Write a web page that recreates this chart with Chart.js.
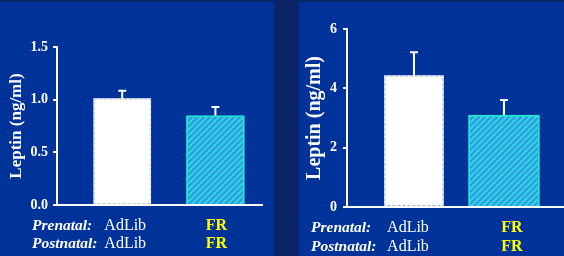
<!DOCTYPE html>
<html>
<head>
<meta charset="utf-8">
<script src="https://cdn.jsdelivr.net/npm/chart.js@4.4.1/dist/chart.umd.min.js"></script>
<style>
  html, body { margin: 0; padding: 0; }
  body { width: 564px; height: 256px; background: #0a2468; position: relative; overflow: hidden; }
  .panel { position: absolute; top: 2px; height: 254px; background: #003399; }
  canvas { position: absolute; top: 0; }
</style>
</head>
<body>
<div class="panel" style="left:0;width:274px"></div>
<div class="panel" style="left:299px;width:265px"></div>
<canvas id="chartA" style="left:0" width="274" height="256"></canvas>
<canvas id="chartB" style="left:299px" width="265" height="256"></canvas>
<script>
// groups (prenatal / postnatal feeding)
const prenatal = ['AdLib', 'FR'];
const postnatal = ['AdLib', 'FR'];
const rowTitles = ['Prenatal:', 'Postnatal:'];
const xPos = [1, 2];

// left panel
const leptinA = [1.01, 0.85];
const semA = [0.075, 0.08];
const ticksA = [0, 0.5, 1.0, 1.5];

// right panel
const leptinB = [4.43, 3.1];
const semB = [0.79, 0.51];
const ticksB = [0, 2, 4, 6];

const serif = "'Liberation Serif', 'Times New Roman', serif";

makeHatch = () => {
    const c = document.createElement('canvas');
    c.width = 6; c.height = 6;
    const g = c.getContext('2d');
    g.fillStyle = '#3f8cf2';
    g.fillRect(0, 0, 6, 6);
    g.strokeStyle = '#20e0d2';
    g.lineWidth = 2.2;
    for (let k = -1; k <= 1; k++) {
        g.beginPath();
        g.moveTo(k * 6 - 1, 7);
        g.lineTo(k * 6 + 7, -1);
        g.stroke();
    }
    return g.createPattern(c, 'repeat');
}

// upper error bars, a dashed edge on the white bar, and the group labels under the axis
const extras = {
    id: 'extras',
    afterDatasetsDraw(chart, args, o) {
        const ctx = chart.ctx;
        const y = chart.scales.y;
        ctx.save();
        chart.data.datasets.forEach((ds, i) => {
            const el = chart.getDatasetMeta(i).data[0];
            if (i === 0) {
                ctx.strokeStyle = o.dashColor;
                ctx.lineWidth = 1;
                ctx.setLineDash([3, 2]);
                ctx.strokeRect(el.x - el.width / 2 + 0.5, el.y + 0.5, el.width - 1, el.base - el.y - 1);
                ctx.setLineDash([]);
            }
            const top = y.getPixelForValue(ds.data[0].y + o.sem[i]);
            ctx.strokeStyle = '#ffffff';
            ctx.lineWidth = 2;
            ctx.beginPath();
            ctx.moveTo(el.x, el.y);
            ctx.lineTo(el.x, top);
            ctx.moveTo(el.x - 4, top);
            ctx.lineTo(el.x + 4, top);
            ctx.stroke();
        });
        ctx.restore();
    },
    afterDraw(chart, args, o) {
        const ctx = chart.ctx;
        const xs = chart.scales.x;
        ctx.save();
        ctx.textBaseline = 'middle';
        rowTitles.forEach((t, j) => {
            const ty = xs.top + o.rowY + j * o.lineH;
            ctx.fillStyle = '#ffffff';
            ctx.textAlign = 'left';
            ctx.font = `italic bold 15.5px ${serif}`;
            ctx.fillText(t, o.rowX, ty);
            const names = j === 0 ? prenatal : postnatal;
            ctx.textAlign = 'center';
            chart.data.datasets.forEach((ds, i) => {
                const el = chart.getDatasetMeta(i).data[0];
                ctx.fillStyle = i === 1 ? '#ffff00' : '#ffffff';
                ctx.font = `${i === 1 ? 'bold ' : ''}16px ${serif}`;
                ctx.fillText(names[i], el.x + o.nudge[i], ty);
            });
        });
        ctx.restore();
    }
};

makeChart = (id, vals, sem, yTicks, s) => {
    new Chart(document.getElementById(id), {
        type: 'bar',
        data: {
            datasets: [
                {
                    data: [{ x: xPos[0], y: vals[0] }],
                    grouped: false,
                    backgroundColor: '#ffffff',
                    borderWidth: 0,
                    barThickness: s.barW[0]
                },
                {
                    data: [{ x: xPos[1], y: vals[1] }],
                    grouped: false,
                    backgroundColor: makeHatch(),
                    borderColor: '#20e6d2',
                    borderWidth: 2,
                    barThickness: s.barW[1]
                }
            ]
        },
        options: {
            responsive: false,
            animation: false,
            events: [],
            layout: { padding: { left: s.padLeft, top: s.top, right: s.padRight, bottom: 0 } },
            plugins: {
                legend: { display: false },
                tooltip: { enabled: false },
                extras: { sem: sem, rowX: s.rowX, rowY: s.rowY, lineH: s.lineH, nudge: s.nudge, dashColor: s.dashColor }
            },
            scales: {
                x: {
                    type: 'linear',
                    offset: false,
                    min: s.xMin,
                    max: s.xMax,
                    afterFit: (sc) => { sc.height = s.xH },
                    grid: { display: false, drawTicks: false },
                    border: { display: true, color: '#ffffff', width: 2 },
                    ticks: { display: false }
                },
                y: {
                    min: 0,
                    max: yTicks[yTicks.length - 1],
                    afterBuildTicks: (sc) => { sc.ticks = yTicks.map(v => ({ value: v })) },
                    afterFit: (sc) => { sc.width = s.yW },
                    grid: { drawOnChartArea: false, drawTicks: true, tickLength: 4, color: '#ffffff', lineWidth: 2 },
                    border: { display: true, color: '#ffffff', width: 2 },
                    ticks: {
                        padding: s.tickPad,
                        color: '#ffffff',
                        font: { family: serif, size: 14, weight: 'bold' },
                        callback: (v) => s.fmt(v)
                    },
                    title: {
                        display: true,
                        text: 'Leptin (ng/ml)',
                        color: '#ffffff',
                        padding: 0,
                        font: { family: serif, size: s.titleSize, weight: 'bold', lineHeight: 1.2 }
                    }
                }
            }
        },
        plugins: [extras]
    });
}

makeChart('chartA', leptinA, semA, ticksA, {
    barW: [57, 58], padLeft: 6, padRight: 12, top: 47, xH: 51, yW: 51,
    xMin: 0.3, xMax: 2.5, tickPad: 5, rowX: 32, rowY: 20.5, lineH: 18, nudge: [3, 1], titleSize: 17,
    dashColor: 'rgba(150,170,225,0.6)', fmt: (v) => v.toFixed(1)
});

makeChart('chartB', leptinB, semB, ticksB, {
    barW: [59, 71], padLeft: 4, padRight: 0, top: 29, xH: 49, yW: 44,
    xMin: 0.256, xMax: 2.667, tickPad: 6, rowX: 12, rowY: 20.5, lineH: 19, nudge: [-6, 8], titleSize: 20,
    dashColor: '#9fb2e6', fmt: (v) => String(v)
});
</script>
</body>
</html>
